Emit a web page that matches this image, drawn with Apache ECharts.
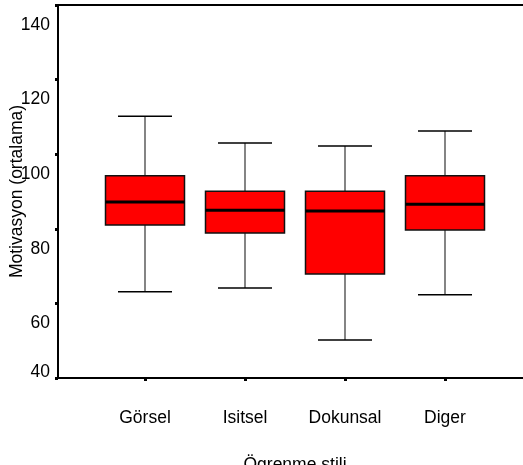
<!DOCTYPE html>
<html>
<head>
<meta charset="utf-8">
<script src="https://cdn.jsdelivr.net/npm/echarts@6/dist/echarts.min.js"></script>
<style>
html,body{margin:0;padding:0;background:#fff;}
#c{width:523px;height:465px;}
</style>
</head>
<body>
<div id="c"></div>
<script>
const categories = ['Görsel', 'Isitsel', 'Dokunsal', 'Diger'];
const lowWhisker = [63.1, 64.1, 50.2, 62.3];
const q1 = [81.0, 78.9, 67.9, 79.7];
const median = [87.2, 85.0, 84.8, 86.6];
const q3 = [94.2, 90.1, 90.1, 94.2];
const highWhisker = [110.2, 103.0, 102.2, 106.2];
const yMin = 40, yMax = 140, yStep = 20;
const xTitle = 'Ögrenme stili';
const yTitle = 'Motivasyon (ortalama)';

const FONT = 'Liberation Sans, Arial, sans-serif';
const FS = 17.5;

const boxData = categories.map((c, i) => [i, lowWhisker[i], q1[i], median[i], q3[i], highWhisker[i]]);

const chart = echarts.init(document.getElementById('c'), null, {renderer: 'canvas'});
chart.setOption({
  animation: false,
  backgroundColor: '#fff',
  textStyle: {fontFamily: FONT},
  grid: [
    {left: 95, width: 400, top: 5, bottom: 87, containLabel: false, outerBoundsMode: 'none'},
    {left: 58, width: 474, top: 5, bottom: 87, containLabel: false, outerBoundsMode: 'none'}
  ],
  xAxis: [
    {
      gridIndex: 0, type: 'category', data: categories, boundaryGap: true,
      axisLine: {show: false},
      axisTick: {show: true, alignWithLabel: true, length: 3, lineStyle: {color: '#000', width: 3}},
      axisLabel: {margin: 31, fontSize: FS, color: '#000', fontFamily: FONT},
      splitLine: {show: false}
    },
    {
      gridIndex: 1, type: 'value', min: 0, max: 1, position: 'bottom',
      axisLine: {show: true, onZero: false, lineStyle: {color: '#000', width: 2}},
      axisTick: {show: false}, axisLabel: {show: false}, splitLine: {show: false},
      name: xTitle, nameLocation: 'middle', nameGap: 78, nameMoveOverlap: false,
      nameTextStyle: {fontSize: FS, color: '#000', fontFamily: FONT}
    },
    {
      gridIndex: 1, type: 'value', min: 0, max: 1, position: 'top',
      axisLine: {show: true, onZero: false, lineStyle: {color: '#000', width: 2}},
      axisTick: {show: false}, axisLabel: {show: false}, splitLine: {show: false}
    }
  ],
  yAxis: [
    {gridIndex: 0, type: 'value', min: yMin, max: yMax, show: false},
    {
      gridIndex: 1, type: 'value', min: yMin, max: yMax, interval: yStep,
      axisLine: {show: true, onZero: false, lineStyle: {color: '#000', width: 2}},
      axisTick: {show: true, length: 3, lineStyle: {color: '#000', width: 3}},
      splitLine: {show: false},
      axisLabel: {
        margin: 8, color: '#000', fontSize: FS, fontFamily: FONT,
        formatter: function (v) { return v === yMin ? '{b|' + v + '}' : '{a|' + v + '}'; },
        rich: {
          a: {fontSize: FS, color: '#000', fontFamily: FONT, padding: [40, 0, 0, 0]},
          b: {fontSize: FS, color: '#000', fontFamily: FONT, padding: [0, 0, 12, 0]}
        }
      },
      name: yTitle, nameLocation: 'middle', nameGap: 32, nameMoveOverlap: false,
      nameTextStyle: {fontSize: FS, color: '#000', fontFamily: FONT}
    }
  ],
  series: [{
    type: 'custom',
    xAxisIndex: 0, yAxisIndex: 0,
    data: boxData,
    encode: {x: 0, y: [1, 2, 3, 4, 5]},
    renderItem: function (params, api) {
      const i = api.value(0);
      const x = api.coord([i, api.value(3)])[0];
      const band = api.size([1, 0])[0];
      const bw = band * 0.79, cw = band * 0.54;
      const yLow = api.coord([i, api.value(1)])[1];
      const yQ1 = api.coord([i, api.value(2)])[1];
      const yMed = api.coord([i, api.value(3)])[1];
      const yQ3 = api.coord([i, api.value(4)])[1];
      const yHigh = api.coord([i, api.value(5)])[1];
      const ws = {stroke: '#333', lineWidth: 1.2};
      const cs = {stroke: '#000', lineWidth: 1.5};
      return {
        type: 'group',
        children: [
          {type: 'line', shape: {x1: x, y1: yHigh, x2: x, y2: yQ3}, style: ws},
          {type: 'line', shape: {x1: x, y1: yQ1, x2: x, y2: yLow}, style: ws},
          {type: 'line', shape: {x1: x - cw / 2, y1: yHigh, x2: x + cw / 2, y2: yHigh}, style: cs},
          {type: 'line', shape: {x1: x - cw / 2, y1: yLow, x2: x + cw / 2, y2: yLow}, style: cs},
          {type: 'rect', shape: {x: x - bw / 2, y: yQ3, width: bw, height: yQ1 - yQ3},
            style: {fill: '#ff0000', stroke: '#111', lineWidth: 1.5}},
          {type: 'line', shape: {x1: x - bw / 2, y1: yMed, x2: x + bw / 2, y2: yMed},
            style: {stroke: '#000', lineWidth: 3}}
        ]
      };
    }
  }]
});
</script>
</body>
</html>
